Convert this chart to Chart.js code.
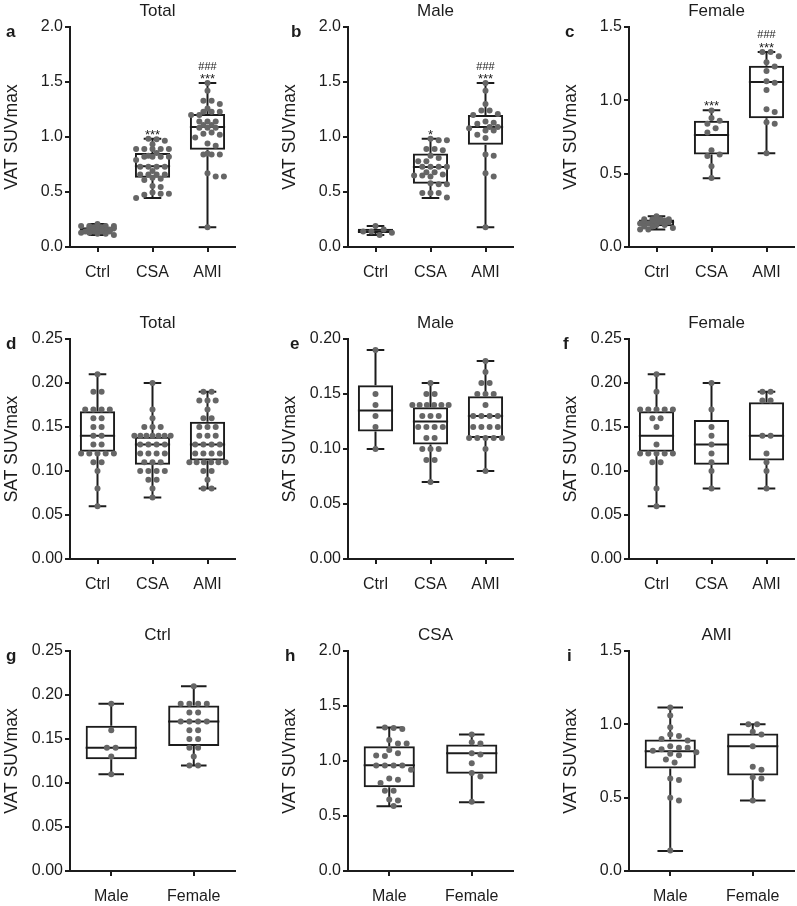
<!DOCTYPE html>
<html>
<head>
<meta charset="utf-8">
<script src="https://cdn.jsdelivr.net/npm/chart.js@4.4.1/dist/chart.umd.min.js"></script>
<style>
  html, body { margin: 0; padding: 0; background: #fff; }
  body { width: 797px; height: 906px; position: relative; overflow: hidden; }
  canvas { position: absolute; }
</style>
</head>
<body>
<canvas id="a" width="236" height="292" style="left:2px;top:0px"></canvas>
<canvas id="b" width="236" height="292" style="left:280px;top:0px"></canvas>
<canvas id="c" width="236" height="292" style="left:561px;top:0px"></canvas>
<canvas id="d" width="236" height="292" style="left:2px;top:312px"></canvas>
<canvas id="e" width="236" height="292" style="left:280px;top:312px"></canvas>
<canvas id="f" width="236" height="292" style="left:561px;top:312px"></canvas>
<canvas id="g" width="236" height="292" style="left:2px;top:624px"></canvas>
<canvas id="h" width="236" height="292" style="left:280px;top:624px"></canvas>
<canvas id="i" width="236" height="292" style="left:561px;top:624px"></canvas>
<script>
// categories
const groups = ['Ctrl', 'CSA', 'AMI'];
const sexes = ['Male', 'Female'];

// a: VAT, total
const aCtrl = [0.21, 0.19, 0.19, 0.19, 0.19, 0.19, 0.18, 0.18, 0.17, 0.17, 0.17, 0.17, 0.16, 0.16, 0.16, 0.15, 0.15, 0.14, 0.14, 0.14, 0.14, 0.13, 0.13, 0.12, 0.12, 0.11];
const aCSA = [0.985, 0.98, 0.965, 0.935, 0.89, 0.89, 0.89, 0.89, 0.89, 0.855, 0.83, 0.82, 0.82, 0.82, 0.82, 0.79, 0.73, 0.73, 0.73, 0.73, 0.69, 0.66, 0.66, 0.66, 0.66, 0.63, 0.62, 0.61, 0.555, 0.545, 0.495, 0.485, 0.485, 0.475, 0.445];
const aAMI = [1.49, 1.42, 1.33, 1.33, 1.30, 1.26, 1.23, 1.23, 1.23, 1.20, 1.20, 1.14, 1.14, 1.14, 1.11, 1.11, 1.085, 1.085, 1.085, 1.04, 1.03, 1.02, 0.995, 0.94, 0.92, 0.85, 0.84, 0.84, 0.84, 0.67, 0.64, 0.64, 0.18];
// box stats: [min, q1, median, q3, max]
const aBox = [[0.11, 0.14, 0.16, 0.18, 0.21], [0.445, 0.63, 0.733, 0.855, 0.985], [0.18, 0.885, 1.09, 1.21, 1.49]];

// b: VAT, male
const bCtrl = [0.19, 0.16, 0.14, 0.14, 0.13, 0.11];
const bCSA = [0.985, 0.97, 0.97, 0.89, 0.89, 0.88, 0.83, 0.81, 0.78, 0.78, 0.73, 0.73, 0.73, 0.73, 0.68, 0.68, 0.66, 0.65, 0.65, 0.64, 0.58, 0.57, 0.57, 0.49, 0.49, 0.49, 0.45];
const bAMI = [1.49, 1.42, 1.30, 1.24, 1.24, 1.21, 1.20, 1.14, 1.13, 1.12, 1.09, 1.09, 1.08, 1.06, 1.06, 1.02, 0.99, 0.84, 0.83, 0.67, 0.64, 0.18];
const bBox = [[0.11, 0.127, 0.14, 0.165, 0.19], [0.445, 0.576, 0.727, 0.85, 0.985], [0.18, 0.93, 1.09, 1.20, 1.49]];

// c: VAT, female
const cCtrl = [0.21, 0.19, 0.19, 0.19, 0.19, 0.18, 0.18, 0.17, 0.17, 0.17, 0.17, 0.16, 0.16, 0.15, 0.15, 0.14, 0.14, 0.13, 0.12, 0.12];
const cCSA = [0.93, 0.88, 0.86, 0.84, 0.81, 0.78, 0.66, 0.63, 0.62, 0.55, 0.47];
const cAMI = [1.33, 1.33, 1.30, 1.26, 1.23, 1.20, 1.13, 1.12, 1.07, 0.94, 0.92, 0.85, 0.84, 0.64];
const cBox = [[0.12, 0.142, 0.17, 0.188, 0.21], [0.468, 0.63, 0.764, 0.861, 0.932], [0.64, 0.877, 1.125, 1.236, 1.33]];

// d: SAT, total
const dCtrl = [0.21, 0.19, 0.19, 0.17, 0.17, 0.17, 0.17, 0.16, 0.16, 0.15, 0.15, 0.14, 0.14, 0.13, 0.13, 0.12, 0.12, 0.12, 0.12, 0.12, 0.11, 0.11, 0.10, 0.08, 0.06];
const dCSA = [0.20, 0.17, 0.16, 0.15, 0.15, 0.15, 0.14, 0.14, 0.14, 0.14, 0.14, 0.14, 0.14, 0.13, 0.13, 0.13, 0.13, 0.12, 0.12, 0.12, 0.12, 0.11, 0.11, 0.11, 0.10, 0.10, 0.10, 0.10, 0.09, 0.09, 0.08, 0.07];
const dAMI = [0.19, 0.19, 0.18, 0.18, 0.18, 0.17, 0.16, 0.16, 0.15, 0.15, 0.15, 0.14, 0.14, 0.14, 0.13, 0.13, 0.13, 0.13, 0.12, 0.12, 0.12, 0.12, 0.11, 0.11, 0.11, 0.11, 0.11, 0.11, 0.10, 0.10, 0.09, 0.08, 0.08];
const dBox = [[0.06, 0.122, 0.14, 0.168, 0.21], [0.07, 0.107, 0.13, 0.139, 0.20], [0.08, 0.112, 0.13, 0.156, 0.19]];

// e: SAT, male
const eCtrl = [0.19, 0.15, 0.14, 0.13, 0.12, 0.10];
const eCSA = [0.16, 0.15, 0.15, 0.14, 0.14, 0.14, 0.14, 0.14, 0.14, 0.13, 0.13, 0.13, 0.12, 0.12, 0.12, 0.12, 0.11, 0.11, 0.10, 0.10, 0.10, 0.09, 0.09, 0.07];
const eAMI = [0.18, 0.17, 0.16, 0.16, 0.15, 0.15, 0.15, 0.14, 0.13, 0.13, 0.13, 0.13, 0.12, 0.12, 0.12, 0.12, 0.11, 0.11, 0.11, 0.11, 0.11, 0.10, 0.08];
const eBox = [[0.10, 0.116, 0.135, 0.158, 0.19], [0.07, 0.104, 0.125, 0.138, 0.16], [0.08, 0.11, 0.13, 0.148, 0.18]];

// f: SAT, female
const fCtrl = [0.21, 0.19, 0.17, 0.17, 0.17, 0.17, 0.17, 0.16, 0.16, 0.15, 0.13, 0.12, 0.12, 0.12, 0.12, 0.12, 0.11, 0.11, 0.08, 0.06];
const fCSA = [0.20, 0.17, 0.15, 0.14, 0.13, 0.12, 0.11, 0.10, 0.08];
const fAMI = [0.19, 0.19, 0.18, 0.18, 0.14, 0.14, 0.12, 0.11, 0.10, 0.08];
const fBox = [[0.06, 0.122, 0.14, 0.168, 0.21], [0.08, 0.107, 0.13, 0.158, 0.20], [0.08, 0.112, 0.14, 0.178, 0.19]];

// g: VAT, Ctrl by sex
const gMale = [0.19, 0.16, 0.14, 0.14, 0.13, 0.11];
const gFemale = [0.21, 0.19, 0.19, 0.19, 0.19, 0.18, 0.18, 0.17, 0.17, 0.17, 0.17, 0.16, 0.16, 0.15, 0.15, 0.14, 0.14, 0.13, 0.12, 0.12];
const gBox = [[0.11, 0.127, 0.14, 0.165, 0.19], [0.12, 0.142, 0.17, 0.188, 0.21]];

// h: VAT, CSA by sex
const hMale = [1.305, 1.30, 1.29, 1.19, 1.16, 1.16, 1.10, 1.07, 1.05, 1.045, 0.96, 0.96, 0.96, 0.96, 0.92, 0.84, 0.83, 0.80, 0.73, 0.73, 0.65, 0.64, 0.59];
const hFemale = [1.24, 1.17, 1.16, 1.07, 1.06, 0.98, 0.89, 0.86, 0.63];
const hBox = [[0.589, 0.762, 0.962, 1.135, 1.305], [0.625, 0.883, 1.07, 1.15, 1.24]];

// i: VAT, AMI by sex
const iMale = [1.115, 1.06, 0.98, 0.93, 0.92, 0.90, 0.89, 0.85, 0.84, 0.84, 0.83, 0.82, 0.81, 0.80, 0.79, 0.76, 0.74, 0.63, 0.62, 0.50, 0.48, 0.14];
const iFemale = [1.0, 1.0, 0.95, 0.93, 0.85, 0.71, 0.69, 0.64, 0.63, 0.48];
const iBox = [[0.137, 0.699, 0.817, 0.897, 1.115], [0.48, 0.651, 0.851, 0.938, 1.0]];

// significance marks
const starA = ['', '***', '***'];
const starB = ['', '*', '***'];
const hashAMI = ['', '', '###'];
const none3 = ['', '', ''];
const none2 = ['', ''];

const font = "'Liberation Sans', Arial, Helvetica, sans-serif";
const ink = '#1c1c1c';
const dotColor = '#666666';

const panels = [
  { id: 'a', title: 'Total', yTitle: 'VAT SUVmax', yMax: 2, step: 0.5, dec: 1, labels: groups, values: [aCtrl, aCSA, aAMI], box: aBox, star: starA, hash: hashAMI, letterDx: -64 },
  { id: 'b', title: 'Male', yTitle: 'VAT SUVmax', yMax: 2, step: 0.5, dec: 1, labels: groups, values: [bCtrl, bCSA, bAMI], box: bBox, star: starB, hash: hashAMI, letterDx: -57 },
  { id: 'c', title: 'Female', yTitle: 'VAT SUVmax', yMax: 1.5, step: 0.5, dec: 1, labels: groups, values: [cCtrl, cCSA, cAMI], box: cBox, star: starA, hash: hashAMI, letterDx: -64 },
  { id: 'd', title: 'Total', yTitle: 'SAT SUVmax', yMax: 0.25, step: 0.05, dec: 2, labels: groups, values: [dCtrl, dCSA, dAMI], box: dBox, star: none3, hash: none3, letterDx: -64 },
  { id: 'e', title: 'Male', yTitle: 'SAT SUVmax', yMax: 0.2, step: 0.05, dec: 2, labels: groups, values: [eCtrl, eCSA, eAMI], box: eBox, star: none3, hash: none3, letterDx: -58 },
  { id: 'f', title: 'Female', yTitle: 'SAT SUVmax', yMax: 0.25, step: 0.05, dec: 2, labels: groups, values: [fCtrl, fCSA, fAMI], box: fBox, star: none3, hash: none3, letterDx: -66 },
  { id: 'g', title: 'Ctrl', yTitle: 'VAT SUVmax', yMax: 0.25, step: 0.05, dec: 2, labels: sexes, values: [gMale, gFemale], box: gBox, star: none2, hash: none2, letterDx: -64 },
  { id: 'h', title: 'CSA', yTitle: 'VAT SUVmax', yMax: 2, step: 0.5, dec: 1, labels: sexes, values: [hMale, hFemale], box: hBox, star: none2, hash: none2, letterDx: -63 },
  { id: 'i', title: 'AMI', yTitle: 'VAT SUVmax', yMax: 1.5, step: 0.5, dec: 1, labels: sexes, values: [iMale, iFemale], box: iBox, star: none2, hash: none2, letterDx: -62 }
];

// spread points of one category sideways, GraphPad style (rows of equal values centred)
function swarm(els, sp, half) {
  const sorted = els.slice().sort((p, q) => p.y - q.y);
  const rows = [];
  sorted.forEach(el => {
    const r = rows[rows.length - 1];
    if (r && Math.abs(r[0].y - el.y) < 0.6) r.push(el); else rows.push([el]);
  });
  const placed = [];
  const minD = sp * 0.78;
  rows.forEach(r => {
    const n = r.length;
    const x0 = r[0].x;
    const s0 = n > 1 ? Math.min(sp, (2 * half) / (n - 1)) : sp;
    const shifts = [0];
    for (let k = 1; k <= 10; k++) shifts.push(k * sp / 2, -k * sp / 2);
    let best = null, bestD = -1;
    for (const s of shifts) {
      const xs = r.map((el, k) => x0 + s + (k - (n - 1) / 2) * s0);
      const reach = Math.max(...xs.map(x => Math.abs(x - x0)));
      if (s !== 0 && reach > half + 0.01) continue;
      let dmin = Infinity;
      xs.forEach((x, k) => placed.forEach(q => {
        const dd = Math.hypot(x - q.x, r[k].y - q.y);
        if (dd < dmin) dmin = dd;
      }));
      if (dmin >= minD) { best = xs; break; }
      if (dmin > bestD) { bestD = dmin; best = xs; }
    }
    r.forEach((el, k) => { el.x = best[k]; placed.push({ x: best[k], y: el.y }); });
  });
}

function makePanel(p) {
  const pts = [];
  p.values.forEach((arr, i) => arr.forEach(v => pts.push({ x: p.labels[i], y: v })));
  const two = p.labels.length === 2;

  const boxPlugin = {
    id: 'boxes',
    afterDatasetsUpdate(chart) {
      const meta = chart.getDatasetMeta(1);
      const byCat = {};
      meta.data.forEach((el, k) => { (byCat[pts[k].x] = byCat[pts[k].x] || []).push(el); });
      const catW = (chart.chartArea.right - chart.chartArea.left) / p.labels.length;
      Object.values(byCat).forEach(els => swarm(els, two ? 8.7 : 8.2, catW * 0.33));
    },
    beforeDatasetsDraw(chart) {
      const { ctx } = chart;
      const y = chart.scales.y;
      const bars = chart.getDatasetMeta(0).data;
      ctx.save();
      ctx.strokeStyle = ink;
      ctx.lineWidth = 2;
      p.box.forEach((b, k) => {
        const cx = bars[k].x, w = bars[k].width;
        const [mn, q1, md, q3, mx] = b.map(v => y.getPixelForValue(v));
        ctx.beginPath();
        ctx.moveTo(cx, q3); ctx.lineTo(cx, mx);
        ctx.moveTo(cx, q1); ctx.lineTo(cx, mn);
        ctx.moveTo(cx - w / 4, mx); ctx.lineTo(cx + w / 4, mx);
        ctx.moveTo(cx - w / 4, mn); ctx.lineTo(cx + w / 4, mn);
        ctx.moveTo(cx - w / 2, md); ctx.lineTo(cx + w / 2, md);
        ctx.stroke();
      });
      ctx.restore();
    },
    afterDraw(chart) {
      const { ctx, chartArea: ca } = chart;
      const y = chart.scales.y;
      const bars = chart.getDatasetMeta(0).data;
      ctx.save();
      ctx.fillStyle = ink;
      ctx.textBaseline = 'alphabetic';
      ctx.textAlign = 'center';
      ctx.font = '17px ' + font;
      ctx.fillText(p.title, (ca.left + ca.right) / 2 + 5, ca.top - 11);
      ctx.textAlign = 'left';
      ctx.font = 'bold 17px ' + font;
      ctx.fillText(p.id, ca.left + p.letterDx, ca.top + 10);
      ctx.textAlign = 'center';
      p.box.forEach((b, k) => {
        const top = y.getPixelForValue(b[4]);
        if (p.star[k]) { ctx.font = '13px ' + font; ctx.fillText(p.star[k], bars[k].x, top); }
        if (p.hash[k]) { ctx.font = '11px ' + font; ctx.fillText(p.hash[k], bars[k].x, top - 13.5); }
      });
      ctx.restore();
    }
  };

  const axisGrid = { display: true, drawOnChartArea: false, drawTicks: true, tickLength: 5, color: ink, lineWidth: 2, offset: false };
  const axisBorder = { display: true, color: ink, width: 2 };

  new Chart(document.getElementById(p.id), {
    type: 'bar',
    data: {
      labels: p.labels,
      datasets: [
        {
          type: 'bar',
          data: p.box.map(b => [b[1], b[3]]),
          backgroundColor: 'rgba(255,255,255,0)',
          borderColor: ink,
          borderWidth: 2,
          borderSkipped: false,
          categoryPercentage: 1,
          barPercentage: two ? 0.62 : 0.64,
          order: 2
        },
        {
          type: 'line',
          data: pts,
          showLine: false,
          pointRadius: 3,
          pointHoverRadius: 3,
          pointBackgroundColor: dotColor,
          pointBorderWidth: 0,
          clip: false,
          order: 1
        }
      ]
    },
    options: {
      responsive: false,
      animation: false,
      events: [],
      devicePixelRatio: 1,
      layout: { padding: { left: 0, right: 0, top: 27, bottom: 0 } },
      plugins: { legend: { display: false }, tooltip: { enabled: false } },
      scales: {
        x: {
          type: 'category',
          offset: true,
          grid: axisGrid,
          border: axisBorder,
          ticks: { color: ink, font: { family: font, size: 16 }, padding: 11, maxRotation: 0, autoSkip: false },
          afterFit(s) { s.height = 45; }
        },
        y: {
          min: 0,
          max: p.yMax,
          grid: axisGrid,
          border: axisBorder,
          ticks: { stepSize: p.step, color: ink, font: { family: font, size: 16 }, padding: 2, callback: v => Number(v).toFixed(p.dec) },
          title: { display: true, text: p.yTitle, color: ink, font: { family: font, size: 17.5 }, padding: { top: 0, bottom: 0 } },
          afterFit(s) { s.width = 68; }
        }
      }
    },
    plugins: [boxPlugin]
  });
}

panels.forEach(makePanel);
</script>
</body>
</html>
